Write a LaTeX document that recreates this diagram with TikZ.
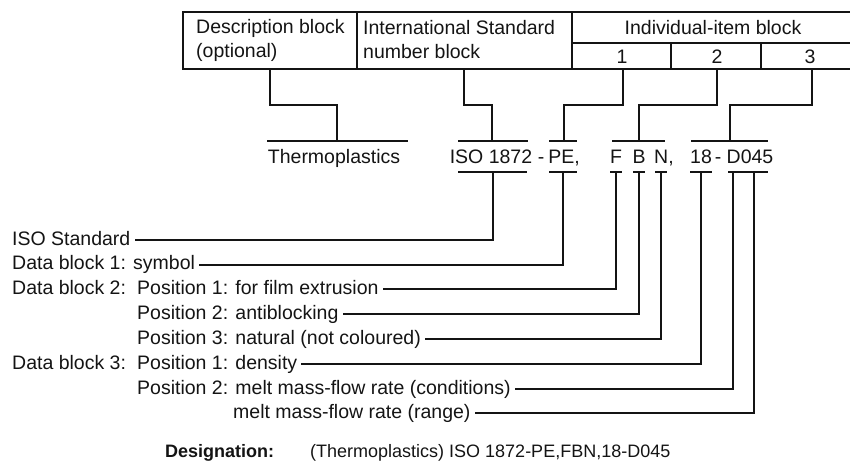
\documentclass[tikz,border=0pt]{standalone}
\usepackage{fontspec}
\setmainfont{Liberation Sans}
\usetikzlibrary{calc}
\definecolor{ink}{HTML}{141414}

\begin{document}
\begin{tikzpicture}[x=1pt,y=-1pt,
  every node/.style={text=ink,inner sep=0pt},
  frame/.style={draw=ink,line width=1.5pt},
  lead/.style={draw=ink,line width=2pt},
  bar/.style={draw=ink,line width=2.4pt},
  head/.style={font=\fontsize{19.5}{24}\selectfont,align=left},
  item/.style={font=\fontsize{19.5}{24}\selectfont,anchor=base},
  note/.style={font=\fontsize{19.5}{24}\selectfont,anchor=west,inner sep=4pt,
    text height=14pt,text depth=4pt}]
\useasboundingbox (0,0) rectangle (850,471);

% header table with its three blocks
\draw[frame] (850,12) -- (183,12) -- (183,69) -- (850,69);
\draw[frame] (357,12) -- (357,69) (572,12) -- (572,69) (572,43) -- (850,43)
  (671,43) -- (671,69) (761,43) -- (761,69);
\node[head,anchor=west] (descr) at (196,40) {Description block\\(optional)};
\node[head,anchor=west] (intl) at (363,40) {International Standard\\number block};
\node[item] (indiv) at (713,34) {Individual-item block};
\node[item] (one) at (622,63) {1};
\node[item] (two) at (717,63) {2};
\node[item] (three) at (810,63) {3};
\coordinate (descr-b) at (270,69);
\coordinate (intl-b) at (464,69);
\coordinate (one-b) at (623,69);
\coordinate (two-b) at (717,69);
\coordinate (three-b) at (812,69);

% the designation, split into its parts
\node[item] (thermo) at (334,163) {Thermoplastics};
\node[item] (iso) at (491,163) {ISO 1872};
\node[item] (dasha) at (541,163) {-};
\node[item] (pe) at (564,163) {PE,};
\node[item] (f) at (616,163) {F};
\node[item] (b) at (639,163) {B};
\node[item,anchor=base west] (n) at (654,163) {N,};
\node[item] (eighteen) at (701,163) {18};
\node[item] (dashb) at (718,163) {-};
\node[item] (dzero) at (750,163) {D045};

\draw[bar] (267,141) -- (408,141) (458,141) -- (528,141) (549,141) -- (577,141)
  (612,141) -- (665,141) (691,141) -- (768,141);
\draw[bar] (458,172) -- (527,172) (549,172) -- (577,172) (610,172) -- (622,172)
  (633,172) -- (645,172) (655,172) -- (667,172) (690,172) -- (712,172)
  (728,172) -- (768,172);
\coordinate (thermo-t) at (337,141);
\coordinate (iso-t) at (492,141);
\coordinate (pe-t) at (564,141);
\coordinate (fbn-t) at (639,141);
\coordinate (tail-t) at (730,141);
\foreach \a/\b in {descr-b/thermo-t,intl-b/iso-t,one-b/pe-t,two-b/fbn-t,three-b/tail-t}
  \draw[lead] (\a) |- ($(\a)!.5!(\b)$) -| (\b);

% explanations on the left
\node[note] (isostd) at (8,240) {ISO Standard};
\node[note] (dbone) at (8,264.5) {Data block 1: symbol};
\node[note] (dbtwo) at (8,289) {Data block 2:};
\node[note] (posa) at (133,289) {Position 1: for film extrusion};
\node[note] (posb) at (133,314) {Position 2: antiblocking};
\node[note] (posc) at (133,339) {Position 3: natural (not coloured)};
\node[note] (dbthree) at (8,364) {Data block 3:};
\node[note] (posd) at (133,364) {Position 1: density};
\node[note] (pose) at (133,389) {Position 2: melt mass-flow rate (conditions)};
\node[note] (posf) at (229,413) {melt mass-flow rate (range)};

\coordinate (iso-b) at (493,172);
\coordinate (pe-b) at (563,172);
\coordinate (f-b) at (616,172);
\coordinate (b-b) at (639,172);
\coordinate (n-b) at (661,172);
\coordinate (eighteen-b) at (701,172);
\coordinate (dzero-b) at (733,172);
\coordinate (dfive-b) at (754,172);
\foreach \a/\b in {iso-b/isostd,pe-b/dbone,f-b/posa,b-b/posb,n-b/posc,
  eighteen-b/posd,dzero-b/pose,dfive-b/posf}
  \draw[lead] (\a) |- (\b.east);

\node[font=\fontsize{18}{22}\selectfont\bfseries,anchor=base west] (desig) at (165,457) {Designation:};
\node[font=\fontsize{18}{22}\selectfont,anchor=base west] (code) at (310,457)
  {(Thermoplastics) ISO 1872-PE,FBN,18-D045};
\end{tikzpicture}
\end{document}
